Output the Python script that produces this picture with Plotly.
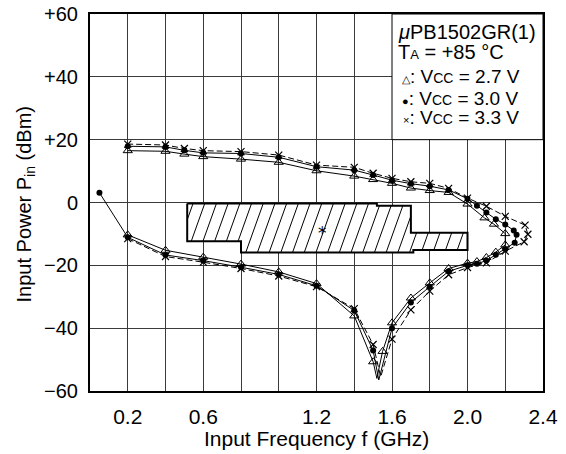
import plotly.graph_objects as go

# ---------------- data ----------------
# Vcc = 2.7 V (triangles) : path from lower-left, along the lower branch, round the nose, back along the upper branch
v27_f = [0.2, 0.4, 0.6, 0.8, 1.0, 1.2, 1.4, 1.5, 1.52, 1.55, 1.6, 1.7, 1.8, 1.9, 2.0, 2.05, 2.1, 2.15, 2.2,
         2.2, 2.14, 2.09, 2.0, 1.9, 1.8, 1.7, 1.6, 1.5, 1.4, 1.2, 1.0, 0.8, 0.6, 0.5, 0.4, 0.2]
v27_p = [-10.3, -15.2, -17.4, -19.6, -22.1, -25.8, -36.1, -50.7, -56.0, -47.4, -38.3, -30.4, -25.6, -21.0, -19.3, -18.8, -17.5, -15.8, -13.5,
         -9.9, -6.9, -4.9, -0.5, 3.2, 3.8, 4.6, 6.1, 7.3, 8.4, 10.1, 12.8, 13.8, 14.6, 15.4, 16.3, 16.5]
v27_marked = [1, 1, 1, 1, 1, 1, 1, 1, 0, 1, 1, 1, 1, 1, 1, 1, 1, 1, 1,
              1, 1, 1, 1, 1, 1, 1, 1, 1, 1, 1, 1, 1, 1, 1, 1, 1]

# Vcc = 3.0 V (dots)
v30_f = [0.05, 0.2, 0.4, 0.6, 0.8, 1.0, 1.2, 1.4, 1.5, 1.53, 1.6, 1.7, 1.8, 1.9, 2.0, 2.05, 2.1, 2.15, 2.2, 2.25,
         2.26, 2.245, 2.2, 2.15, 2.1, 2.05, 2.0, 1.9, 1.8, 1.7, 1.6, 1.5, 1.4, 1.2, 1.0, 0.8, 0.6, 0.5, 0.4, 0.2]
v30_p = [3.1, -11.1, -16.7, -18.5, -20.6, -22.9, -26.5, -34.4, -47.1, -56.5, -40.0, -31.8, -26.8, -21.9, -20.0, -19.5, -18.5, -16.6, -14.9, -12.8,
         -10.3, -8.9, -7.0, -5.3, -3.2, -1.0, 1.2, 4.0, 5.2, 6.0, 7.1, 8.75, 10.3, 11.4, 14.4, 15.6, 15.8, 16.6, 17.7, 17.9]
v30_marked = [1, 1, 1, 1, 1, 1, 1, 1, 1, 0, 1, 1, 1, 1, 1, 1, 1, 1, 1, 1,
              1, 1, 1, 1, 1, 1, 1, 1, 1, 1, 1, 1, 1, 1, 1, 1, 1, 1, 1, 1]

# Vcc = 3.3 V (crosses)
v33_f = [0.2, 0.4, 0.6, 0.8, 1.0, 1.2, 1.4, 1.5, 1.54, 1.6, 1.7, 1.8, 1.9, 2.0, 2.1, 2.2, 2.3,
         2.32, 2.305, 2.2, 2.1, 2.0, 1.9, 1.8, 1.7, 1.6, 1.5, 1.4, 1.2, 1.0, 0.8, 0.6, 0.5, 0.4, 0.2]
v33_p = [-11.5, -17.2, -19.0, -21.0, -23.4, -26.8, -33.8, -45.2, -55.5, -43.5, -34.2, -28.2, -23.0, -20.7, -19.2, -15.5, -12.5,
         -10.1, -7.2, -4.4, -1.2, 1.4, 4.5, 6.1, 6.6, 7.7, 9.3, 11.2, 11.9, 15.1, 16.2, 16.5, 17.2, 18.3, 18.6]
v33_marked = [1, 1, 1, 1, 1, 1, 1, 1, 0, 1, 1, 1, 1, 1, 1, 1, 1,
              1, 1, 1, 1, 1, 1, 1, 1, 1, 1, 1, 1, 1, 1, 1, 1, 1, 1]

# hatched target zone (outline)
zone_f = [0.515, 1.52, 1.52, 1.70, 1.70, 2.0, 2.0, 1.713, 1.713, 0.8, 0.8, 0.515]
zone_p = [-0.3, -0.3, -1.0, -1.0, -9.6, -9.6, -15.1, -15.1, -15.9, -15.9, -12.3, -12.3]
star_f, star_p = 1.23, -8.4

x_tickvals = [0.2, 0.6, 1.2, 1.6, 2.0, 2.4]
x_ticktext = ["0.2", "0.6", "1.2", "1.6", "2.0", "2.4"]
x_grid_step = 0.2
y_tickvals = [-60, -40, -20, 0, 20, 40, 60]
y_ticktext = ["\u221260", "\u221240", "\u221220", "0", "+20", "+40", "+60"]

legend_lines = [
    "<i>\u03bc</i>PB1502GR(1)",
    "T<span style=\"font-size:13px\">A</span> = +85 \u00b0C",
    "<span style=\"font-size:11px\">\u25b3</span>: V<span style=\"font-size:14px\">CC</span> = 2.7 V",
    "<span style=\"font-size:11px\">\u25cf</span>: V<span style=\"font-size:14px\">CC</span> = 3.0 V",
    "<span style=\"font-size:11px\">\u00d7</span>: V<span style=\"font-size:14px\">CC</span> = 3.3 V",
]

FONT = "Liberation Sans, Arial, Helvetica, sans-serif"

fig = go.Figure()

# ---- hatched zone ----
fig.add_trace(go.Scatter(x=zone_f + [zone_f[0]], y=zone_p + [zone_p[0]], mode="lines",
                         fill="toself", fillcolor="white",
                         line=dict(color="black", width=2), hoverinfo="skip"))

# hatch lines, clipped to the zone outline
px_per_f = 453 / 2.4
px_per_p = 377 / 120
k = (1 / 2.8) * (px_per_p / px_per_f)   # df per dB for the hatch slope
step = 11.7 / px_per_f
edges = list(zip(zip(zone_f, zone_p), zip(zone_f[1:] + zone_f[:1], zone_p[1:] + zone_p[:1])))
c = min(zone_f) - k * max(zone_p) + step * 0.5
c_end = max(zone_f) - k * min(zone_p)
hx, hy = [], []
while c < c_end:
    ys = []
    for (x1, y1), (x2, y2) in edges:
        if abs(x1 - x2) < 1e-12:
            y = (x1 - c) / k
            if min(y1, y2) < y < max(y1, y2):
                ys.append(y)
        else:
            x = c + k * y1
            if min(x1, x2) < x < max(x1, x2):
                ys.append(y1)
    ys.sort()
    for i in range(0, len(ys) - 1, 2):
        hx += [c + k * ys[i], c + k * ys[i + 1], None]
        hy += [ys[i], ys[i + 1], None]
    c += step
fig.add_trace(go.Scatter(x=hx, y=hy, mode="lines", line=dict(color="black", width=1), hoverinfo="skip"))

# ---- series ----
series = [
    (v27_f, v27_p, v27_marked, "solid", dict(symbol="triangle-up-open", size=8, color="black", line=dict(color="black", width=1))),
    (v30_f, v30_p, v30_marked, "solid", dict(symbol="circle", size=6, color="black")),
    (v33_f, v33_p, v33_marked, "6px,3px", dict(symbol="x-thin", size=7, color="black", line=dict(color="black", width=1.2))),
]
for f, p, marked, dash, mk in series:
    fig.add_trace(go.Scatter(x=f, y=p, mode="lines", line=dict(color="black", width=1, dash=dash), hoverinfo="skip"))
    mf = [a for a, m in zip(f, marked) if m]
    mp = [b for b, m in zip(p, marked) if m]
    fig.add_trace(go.Scatter(x=mf, y=mp, mode="markers", marker=mk, hoverinfo="skip"))

# ---- legend box (white, covers the grid) ----
fig.add_shape(type="rect", xref="x", yref="y", x0=1.6, x1=2.4, y0=20, y1=60,
              fillcolor="white", line=dict(color="black", width=1), layer="between")

legend_y = [54.3, 47.9, 40.2, 33.1, 26.9]
legend_x = [1.62, 1.62, 1.64, 1.645, 1.65]
legend_size = [20, 20, 19, 19, 19]
for txt, lx, ly, sz in zip(legend_lines, legend_x, legend_y, legend_size):
    fig.add_annotation(x=lx, y=ly, xref="x", yref="y", text=txt, showarrow=False,
                       xanchor="left", yanchor="middle", font=dict(family=FONT, size=sz, color="#000000"))

fig.add_annotation(x=star_f, y=star_p, xref="x", yref="y", text="*", showarrow=False,
                   xanchor="center", yanchor="middle", yshift=-4,
                   font=dict(family="DejaVu Sans, sans-serif", size=17, color="#000000"))

# axis titles
fig.add_annotation(x=0.5, y=0, xref="paper", yref="paper", text="Input Frequency f (GHz)", showarrow=False,
                   xanchor="center", yanchor="middle", yshift=-47, font=dict(family=FONT, size=21, color="#000000"))
fig.add_annotation(x=0, y=0.5, xref="paper", yref="paper", text="Input Power P<sub>in</sub> (dBm)", showarrow=False,
                   textangle=-90, xanchor="center", yanchor="middle", xshift=-65, yshift=-2,
                   font=dict(family=FONT, size=20, color="#000000"))

fig.update_xaxes(range=[0, 2.4], tickvals=x_tickvals, ticktext=x_ticktext, showgrid=True,
                 gridcolor="#3a3a3a", gridwidth=1, zeroline=False, showline=True, mirror=True,
                 linecolor="black", linewidth=2, ticks="", ticklabelstandoff=6, automargin=False,
                 ticklabeloverflow="allow",
                 minor=dict(tick0=0, dtick=x_grid_step, showgrid=True, gridcolor="#3a3a3a", gridwidth=1, ticks=""),
                 tickfont=dict(family=FONT, size=21, color="black"), fixedrange=True)
fig.update_yaxes(range=[-60, 60], tickvals=y_tickvals, ticktext=y_ticktext, showgrid=True,
                 gridcolor="#3a3a3a", gridwidth=1, zeroline=False, showline=True, mirror=True,
                 linecolor="black", linewidth=2, ticks="", ticklabelstandoff=6, automargin=False,
                 ticklabeloverflow="allow",
                 tickfont=dict(family=FONT, size=20, color="black"), fixedrange=True)

fig.update_layout(width=566, height=454, margin=dict(l=90, r=23, t=14, b=63, autoexpand=False),
                  plot_bgcolor="white", paper_bgcolor="white", showlegend=False, hovermode=False)

# remove the page's default 8 px body margin so the figure sits at the window's corner
fig.write_html("out.html", config={"displayModeBar": False, "staticPlot": True},
               post_script="document.body.style.margin='0px';")
